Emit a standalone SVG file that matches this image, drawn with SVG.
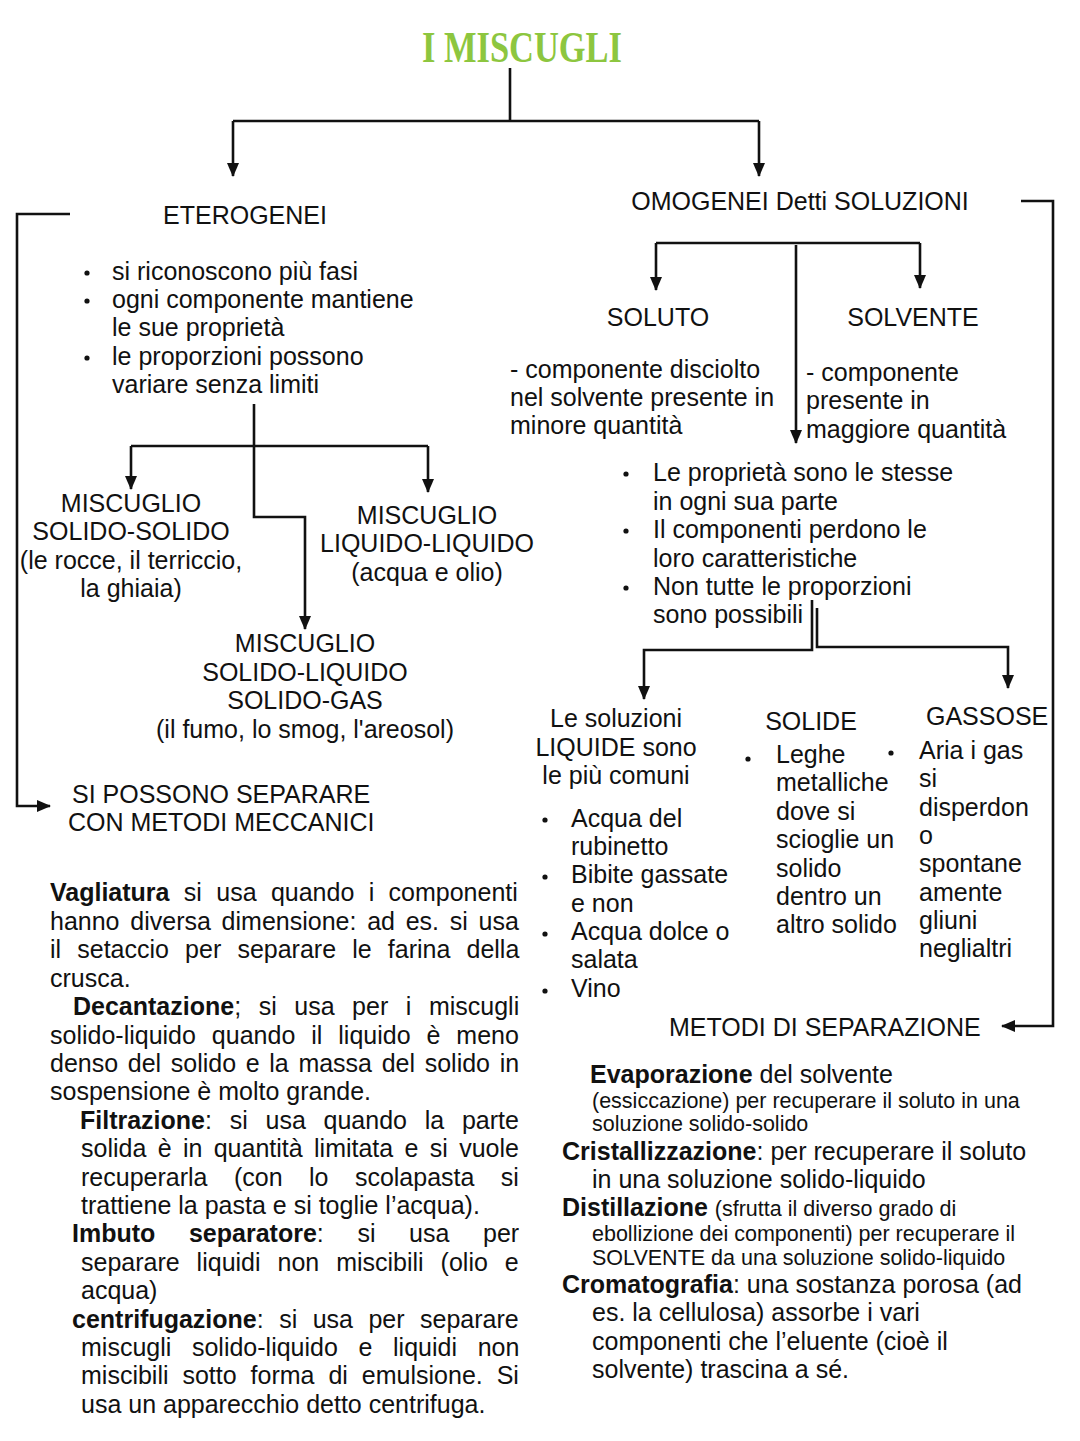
<svg xmlns="http://www.w3.org/2000/svg" width="1080" height="1441" viewBox="0 0 1080 1441">
<defs>
<style>
text{font-family:"Liberation Sans",Arial,sans-serif;font-size:25px;fill:#111}
.c{text-anchor:middle}
.b{font-weight:bold}
.s{font-size:21.5px}
.ln{fill:none;stroke:#111;stroke-width:2.6}
.dot{fill:#111}
.title{font-family:"Liberation Serif","Times New Roman",serif;font-weight:bold;font-size:44px;fill:#8dc63f}
</style>
<marker id="ah" markerUnits="userSpaceOnUse" markerWidth="14" markerHeight="14" viewBox="0 0 14 14" refX="13" refY="7" orient="auto">
<path d="M0,1 L14,7 L0,13 Z" fill="#111"/>
</marker>
</defs>
<rect width="1080" height="1441" fill="#fff"/>

<g id="connectors">
<path class="ln" d="M510,68 V121"/>
<path class="ln" d="M233,121 H759"/>
<path class="ln" d="M233,121 V176" marker-end="url(#ah)"/>
<path class="ln" d="M759,121 V176" marker-end="url(#ah)"/>
<path class="ln" d="M70,214 H17 V806 H50" marker-end="url(#ah)"/>
<path class="ln" d="M1021,201 H1053 V1026 H1002" marker-end="url(#ah)"/>
<path class="ln" d="M254,404 V517 H305 V629" marker-end="url(#ah)"/>
<path class="ln" d="M131,446 H428"/>
<path class="ln" d="M131,446 V489" marker-end="url(#ah)"/>
<path class="ln" d="M428,446 V492" marker-end="url(#ah)"/>
<path class="ln" d="M656,243 H920"/>
<path class="ln" d="M656,243 V290" marker-end="url(#ah)"/>
<path class="ln" d="M920,243 V288" marker-end="url(#ah)"/>
<path class="ln" d="M796,245 V443" marker-end="url(#ah)"/>
<path class="ln" d="M812,600 V650 H644 V699" marker-end="url(#ah)"/>
<path class="ln" d="M817,608 V647 H1008 V688" marker-end="url(#ah)"/>
</g>

<g id="title">
<text class="title c" x="522" y="62" textLength="200" lengthAdjust="spacingAndGlyphs">I MISCUGLI</text>
</g>

<g id="eterogenei">
<text class="c" x="245" y="224">ETEROGENEI</text>
<circle class="dot" cx="87" cy="273" r="2.6"/>
<circle class="dot" cx="87" cy="301" r="2.6"/>
<circle class="dot" cx="87" cy="358" r="2.6"/>
<text x="112" y="280">si riconoscono più fasi</text>
<text x="112" y="308">ogni componente mantiene</text>
<text x="112" y="336">le sue proprietà</text>
<text x="112" y="365">le proporzioni possono</text>
<text x="112" y="393">variare senza limiti</text>
</g>

<g id="solido-solido">
<text class="c" x="131" y="512">MISCUGLIO</text>
<text class="c" x="131" y="540">SOLIDO-SOLIDO</text>
<text class="c" x="131" y="569">(le rocce, il terriccio,</text>
<text class="c" x="131" y="597">la ghiaia)</text>
</g>

<g id="liquido-liquido">
<text class="c" x="427" y="524">MISCUGLIO</text>
<text class="c" x="427" y="552">LIQUIDO-LIQUIDO</text>
<text class="c" x="427" y="581">(acqua e olio)</text>
</g>

<g id="solido-liquido">
<text class="c" x="305" y="652">MISCUGLIO</text>
<text class="c" x="305" y="681">SOLIDO-LIQUIDO</text>
<text class="c" x="305" y="709">SOLIDO-GAS</text>
<text class="c" x="305" y="738">(il fumo, lo smog, l'areosol)</text>
</g>

<g id="metodi-meccanici">
<text x="72" y="803">SI POSSONO SEPARARE</text>
<text x="68" y="831">CON METODI MECCANICI</text>
</g>

<g id="metodi-eterogenei">
<text x="50" y="901" word-spacing="7.4"><tspan class="b">Vagliatura</tspan> si usa quando i componenti</text>
<text x="50" y="930" word-spacing="3.8">hanno diversa dimensione: ad es. si usa</text>
<text x="50" y="958" word-spacing="9.2">il setaccio per separare le farina della</text>
<text x="50" y="987">crusca.</text>
<text x="73" y="1015" word-spacing="10.6"><tspan class="b">Decantazione</tspan>; si usa per i miscugli</text>
<text x="50" y="1044" word-spacing="9">solido-liquido quando il liquido è meno</text>
<text x="50" y="1072" word-spacing="2.7">denso del solido e la massa del solido in</text>
<text x="50" y="1100">sospensione è molto grande.</text>
<text x="80" y="1129" word-spacing="10.8"><tspan class="b">Filtrazione</tspan>: si usa quando la parte</text>
<text x="81" y="1157" word-spacing="4.4">solida è in quantità limitata e si vuole</text>
<text x="81" y="1186" word-spacing="19.5">recuperarla (con lo scolapasta si</text>
<text x="81" y="1214">trattiene la pasta e si toglie l’acqua).</text>
<text x="72" y="1242" word-spacing="26.7"><tspan class="b">Imbuto separatore</tspan>: si usa per</text>
<text x="81" y="1271" word-spacing="10">separare liquidi non miscibili (olio e</text>
<text x="81" y="1299">acqua)</text>
<text x="72" y="1328" word-spacing="8.5"><tspan class="b">centrifugazione</tspan>: si usa per separare</text>
<text x="81" y="1356" word-spacing="13.7">miscugli solido-liquido e liquidi non</text>
<text x="81" y="1384" word-spacing="7">miscibili sotto forma di emulsione. Si</text>
<text x="81" y="1413">usa un apparecchio detto centrifuga.</text>
</g>

<g id="omogenei">
<text class="c" x="800" y="210">OMOGENEI Detti SOLUZIONI</text>
</g>

<g id="soluto">
<text class="c" x="658" y="326">SOLUTO</text>
<text x="510" y="378">- componente disciolto</text>
<text x="510" y="406">nel solvente presente in</text>
<text x="510" y="434">minore quantità</text>
</g>

<g id="solvente">
<text class="c" x="913" y="326">SOLVENTE</text>
<text x="806" y="381">- componente</text>
<text x="806" y="409">presente in</text>
<text x="806" y="438">maggiore quantità</text>
</g>

<g id="proprieta">
<circle class="dot" cx="626" cy="474" r="2.6"/>
<circle class="dot" cx="626" cy="531" r="2.6"/>
<circle class="dot" cx="626" cy="588" r="2.6"/>
<text x="653" y="481">Le proprietà sono le stesse</text>
<text x="653" y="510">in ogni sua parte</text>
<text x="653" y="538">Il componenti perdono le</text>
<text x="653" y="567">loro caratteristiche</text>
<text x="653" y="595">Non tutte le proporzioni</text>
<text x="653" y="623">sono possibili</text>
</g>

<g id="liquide">
<text class="c" x="616" y="727">Le soluzioni</text>
<text class="c" x="616" y="756">LIQUIDE sono</text>
<text class="c" x="616" y="784">le più comuni</text>
<circle class="dot" cx="545" cy="820" r="2.6"/>
<circle class="dot" cx="545" cy="877" r="2.6"/>
<circle class="dot" cx="545" cy="934" r="2.6"/>
<circle class="dot" cx="545" cy="991" r="2.6"/>
<text x="571" y="827">Acqua del</text>
<text x="571" y="855">rubinetto</text>
<text x="571" y="883">Bibite gassate</text>
<text x="571" y="912">e non</text>
<text x="571" y="940">Acqua dolce o</text>
<text x="571" y="968">salata</text>
<text x="571" y="997">Vino</text>
</g>

<g id="solide">
<text class="c" x="811" y="730">SOLIDE</text>
<circle class="dot" cx="748" cy="759" r="2.6"/>
<text x="776" y="763">Leghe</text>
<text x="776" y="791">metalliche</text>
<text x="776" y="820">dove si</text>
<text x="776" y="848">scioglie un</text>
<text x="776" y="877">solido</text>
<text x="776" y="905">dentro un</text>
<text x="776" y="933">altro solido</text>
</g>

<g id="gassose">
<text x="926" y="725">GASSOSE</text>
<circle class="dot" cx="891" cy="753" r="2.6"/>
<text x="919" y="759">Aria i gas</text>
<text x="919" y="787">si</text>
<text x="919" y="816">disperdon</text>
<text x="919" y="844">o</text>
<text x="919" y="872">spontane</text>
<text x="919" y="901">amente</text>
<text x="919" y="929">gliuni</text>
<text x="919" y="957">neglialtri</text>
</g>

<g id="metodi-separazione">
<text x="669" y="1036">METODI DI SEPARAZIONE</text>
</g>

<g id="metodi-omogenei">
<text x="590" y="1083"><tspan class="b">Evaporazione</tspan> del solvente</text>
<text class="s" x="592" y="1108">(essiccazione) per recuperare il soluto in una</text>
<text class="s" x="592" y="1131">soluzione solido-solido</text>
<text x="562" y="1160"><tspan class="b">Cristallizzazione</tspan>: per recuperare il soluto</text>
<text x="592" y="1188">in una soluzione solido-liquido</text>
<text x="562" y="1216"><tspan class="b">Distillazione</tspan> <tspan class="s">(sfrutta il diverso grado di</tspan></text>
<text class="s" x="592" y="1241">ebollizione dei componenti) per recuperare il</text>
<text class="s" x="592" y="1265">SOLVENTE da una soluzione solido-liquido</text>
<text x="562" y="1293"><tspan class="b">Cromatografia</tspan>: una sostanza porosa (ad</text>
<text x="592" y="1321">es. la cellulosa) assorbe i vari</text>
<text x="592" y="1350">componenti che l’eluente (cioè il</text>
<text x="592" y="1378">solvente) trascina a sé.</text>
</g>
</svg>
